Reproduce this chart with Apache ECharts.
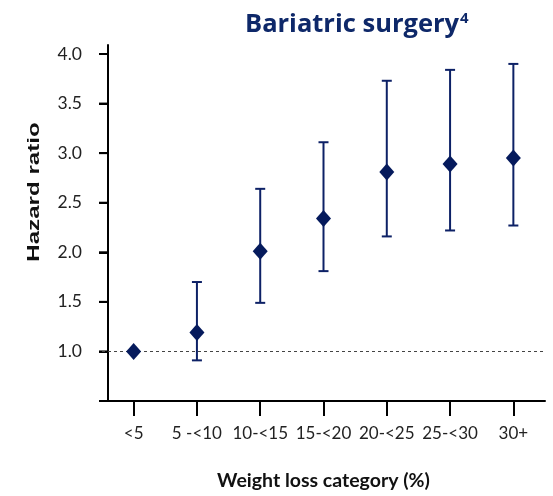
<!DOCTYPE html>
<html>
<head>
<meta charset="utf-8">
<script src="https://cdn.jsdelivr.net/npm/echarts@6/dist/echarts.min.js"></script>
<style>
html,body{margin:0;padding:0;background:#fff;}
#c{width:553px;height:496px;}
</style>
</head>
<body>
<div id="c"></div>
<script>
const categories = ['<5', '5 -<10', '10-<15', '15-<20', '20-<25', '25-<30', '30+'];
const hazardRatio = [1.00, 1.19, 2.01, 2.34, 2.81, 2.89, 2.95];
const ciLower = [null, 0.91, 1.49, 1.81, 2.16, 2.22, 2.27];
const ciUpper = [null, 1.70, 2.64, 3.11, 3.73, 3.84, 3.90];
const yTickValues = [1.0, 1.5, 2.0, 2.5, 3.0, 3.5, 4.0];
const yMin = 0.5, yMax = 4.0, yStep = 0.5;
const referenceValue = 1.0;

const navy = '#0d2166';
const markerColor = '#051a5c';
const labelFont = 'Lato, "Open Sans", sans-serif';

const errorData = [];
categories.forEach((c, i) => {
  if (ciLower[i] != null && ciUpper[i] != null) errorData.push([i, ciLower[i], ciUpper[i]]);
});

const gridCommon = {right: 8, bottom: 95, outerBoundsMode: 'none', containLabel: false};

const chart = echarts.init(document.getElementById('c'), null, {renderer: 'canvas'});
chart.setOption({
  animation: false,
  backgroundColor: '#fff',
  title: {
    text: '{a|Bariatric surgery}{s|4}',
    left: 240,
    top: 6,
    textStyle: {
      rich: {
        a: {fontFamily: '"Open Sans", sans-serif', fontWeight: 'bold', fontSize: 25.5, color: '#0e2869'},
        s: {fontFamily: '"Open Sans", sans-serif', fontWeight: 'bold', fontSize: 15, color: '#0e2869', padding: [0, 0, 12, 1]}
      }
    }
  },
  graphic: [{
    type: 'text',
    x: 34, y: 192,
    rotation: Math.PI / 2,
    scaleX: 1.42,
    scaleY: 1,
    style: {
      text: 'Hazard ratio',
      font: 'bold 17px "Liberation Sans", Arial, sans-serif',
      fill: '#111',
      align: 'center',
      verticalAlign: 'middle'
    }
  }],
  grid: [
    Object.assign({left: 108, top: 45}, gridCommon),   // y axis line
    Object.assign({left: 108, top: 54}, gridCommon),   // y labels + ticks
    Object.assign({left: 102, top: 54}, gridCommon)    // data + x axis
  ],
  xAxis: [
    {gridIndex: 0, type: 'category', data: categories, show: false},
    {gridIndex: 1, type: 'category', data: categories, show: false},
    {
      gridIndex: 2,
      type: 'category',
      data: categories,
      boundaryGap: true,
      name: 'Weight loss category (%)',
      nameLocation: 'middle',
      nameGap: 70,
      nameTextStyle: {fontFamily: labelFont, fontWeight: 'bold', fontSize: 19.5, color: '#111'},
      axisLine: {show: true, lineStyle: {color: '#000', width: 2}},
      axisTick: {show: true, interval: 0, alignWithLabel: true, length: 15, lineStyle: {color: '#000', width: 2}},
      axisLabel: {show: true, interval: 0, fontFamily: labelFont, fontSize: 17, color: '#222', margin: 24},
      splitLine: {show: false}
    }
  ],
  yAxis: [
    {
      gridIndex: 0,
      type: 'value',
      min: 0,
      max: 1,
      axisLine: {show: true, lineStyle: {color: '#000', width: 2}},
      axisTick: {show: false},
      axisLabel: {show: false},
      splitLine: {show: false}
    },
    {
      gridIndex: 1,
      type: 'value',
      min: yMin,
      max: yMax,
      interval: yStep,
      axisLine: {show: false},
      axisTick: {show: true, length: 9, lineStyle: {color: '#000', width: 2}},
      axisLabel: {
        show: true,
        fontFamily: labelFont, fontSize: 17.5, color: '#222', margin: 26,
        formatter: v => (v <= yMin ? '' : Number(v).toFixed(1))
      },
      splitLine: {show: false}
    },
    {
      gridIndex: 2,
      type: 'value',
      min: yMin,
      max: yMax,
      interval: yStep,
      show: false
    }
  ],
  series: [
    {
      // y-axis tick marks, positioned through the y scale
      type: 'custom',
      xAxisIndex: 1,
      yAxisIndex: 1,
      silent: true,
      clip: false,
      data: yTickValues.map(v => [0, v]),
      z: 3,
      renderItem: function (params, api) {
        const y = api.coord([0, api.value(1)])[1];
        const x0 = params.coordSys.x;
        return {
          type: 'line',
          shape: {x1: x0 - 9, y1: y, x2: x0, y2: y},
          style: {stroke: '#000', lineWidth: 2}
        };
      }
    },
    {
      type: 'custom',
      xAxisIndex: 2,
      yAxisIndex: 2,
      data: errorData,
      z: 2,
      renderItem: function (params, api) {
        const x = api.value(0);
        const lo = api.coord([x, api.value(1)]);
        const hi = api.coord([x, api.value(2)]);
        const hw = 5;
        const style = {stroke: navy, lineWidth: 2};
        return {
          type: 'group',
          children: [
            {type: 'line', shape: {x1: lo[0], y1: lo[1], x2: hi[0], y2: hi[1]}, style: style},
            {type: 'line', shape: {x1: hi[0] - hw, y1: hi[1], x2: hi[0] + hw, y2: hi[1]}, style: style},
            {type: 'line', shape: {x1: lo[0] - hw, y1: lo[1], x2: lo[0] + hw, y2: lo[1]}, style: style}
          ]
        };
      }
    },
    {
      type: 'scatter',
      xAxisIndex: 2,
      yAxisIndex: 2,
      data: hazardRatio,
      symbol: 'diamond',
      symbolSize: [15, 17],
      z: 5,
      itemStyle: {color: markerColor, opacity: 1},
      markLine: {
        silent: true,
        symbol: 'none',
        label: {show: false},
        lineStyle: {color: '#444', type: [3, 3], width: 1},
        data: [{yAxis: referenceValue}]
      }
    }
  ]
});
</script>
</body>
</html>
